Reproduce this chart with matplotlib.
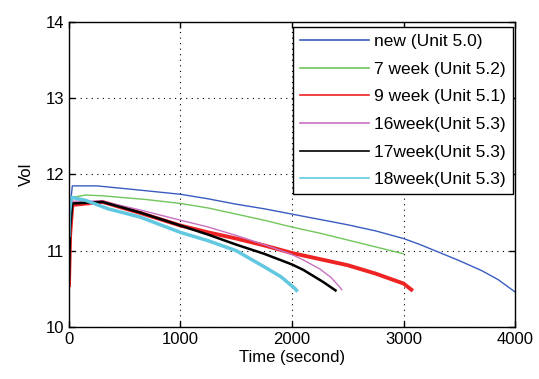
import matplotlib
matplotlib.use("Agg")
import matplotlib.pyplot as plt
from matplotlib.lines import Line2D

plt.rcParams['font.family'] = ['Liberation Sans', 'DejaVu Sans']

# time (s) / voltage key points
t_new = [0, 5, 30, 250, 600, 1000, 1250, 1500, 1750, 2000, 2250, 2500, 2750, 3000, 3150, 3300, 3500, 3700, 3850, 4000]
v_new = [10.9, 11.5, 11.85, 11.85, 11.80, 11.74, 11.68, 11.61, 11.55, 11.48, 11.41, 11.34, 11.26, 11.16, 11.08, 10.99, 10.87, 10.74, 10.62, 10.46]

t_w7 = [0, 5, 30, 150, 300, 700, 1000, 1250, 1500, 1750, 2000, 2250, 2500, 2750, 3000]
v_w7 = [10.75, 11.2, 11.70, 11.73, 11.72, 11.67, 11.62, 11.56, 11.48, 11.40, 11.31, 11.23, 11.14, 11.05, 10.96]

t_w9 = [0, 10, 30, 300, 650, 1000, 1250, 1500, 1750, 2000, 2250, 2500, 2750, 3000, 3070]
v_w9 = [10.55, 11.2, 11.6, 11.64, 11.49, 11.33, 11.24, 11.16, 11.07, 10.97, 10.89, 10.81, 10.70, 10.57, 10.49]

t_w16 = [0, 10, 30, 300, 650, 1000, 1250, 1500, 1750, 2000, 2100, 2250, 2350, 2430, 2445]
v_w16 = [10.7, 11.3, 11.65, 11.65, 11.53, 11.40, 11.31, 11.20, 11.08, 10.95, 10.88, 10.76, 10.65, 10.52, 10.49]

t_w17 = [0, 10, 30, 300, 640, 1000, 1250, 1500, 1750, 2000, 2100, 2190, 2280, 2370, 2390]
v_w17 = [10.65, 11.3, 11.62, 11.64, 11.5, 11.33, 11.21, 11.08, 10.96, 10.82, 10.75, 10.67, 10.59, 10.5, 10.48]

t_w18 = [0, 5, 20, 150, 350, 640, 1000, 1250, 1500, 1750, 1900, 2030, 2040]
v_w18 = [11.2, 11.5, 11.7, 11.66, 11.55, 11.44, 11.24, 11.13, 11.0, 10.79, 10.66, 10.5, 10.48]

labels = ['new (Unit 5.0)', '7 week (Unit 5.2)', '9 week (Unit 5.1)',
          '16week(Unit 5.3)', '17week(Unit 5.3)', '18week(Unit 5.3)']
colors = ['#3a5cc0', '#72c65c', '#ee2424', '#c870c0', '#000000', '#62c8e0']
widths = [1.0, 1.0, 2.8, 1.0, 1.8, 2.5]

fig = plt.figure(figsize=(5.39, 3.79), dpi=100)
ax = fig.add_axes([0.128, 0.1372, 0.8275, 0.805])

series = [(t_new, v_new), (t_w7, v_w7), (t_w9, v_w9),
          (t_w16, v_w16), (t_w17, v_w17), (t_w18, v_w18)]
for (t, v), c, w in zip(series, colors, widths):
    ax.plot(t, v, color=c, lw=w)

ax.set_xlim(0, 4000)
ax.set_ylim(10, 14)
ax.set_xticks([0, 1000, 2000, 3000, 4000])
ax.set_yticks([10, 11, 12, 13, 14])
ax.tick_params(direction='in', top=True, right=True, labelsize=12, length=4, width=1)
ax.grid(True, color='black', linestyle=(0, (1, 4)), linewidth=0.8)
for s in ax.spines.values():
    s.set_linewidth(1.0)

ax.set_xlabel('Time (second)', fontsize=12, labelpad=2)
ax.set_ylabel('Vol', fontsize=12, labelpad=8)

# thin lines in the legend, like the original
handles = [Line2D([], [], color=c, lw=1.2) for c in colors]
leg = ax.legend(handles, labels, loc='upper right', bbox_to_anchor=(0.9955, 0.9836),
                borderaxespad=0, fontsize=12.5, fancybox=False, framealpha=1,
                edgecolor='black', handlelength=4.0, handletextpad=0.3,
                labelspacing=0.72, borderpad=0.4)
leg.get_frame().set_linewidth(1.0)

fig.savefig('out.png', dpi=100)
